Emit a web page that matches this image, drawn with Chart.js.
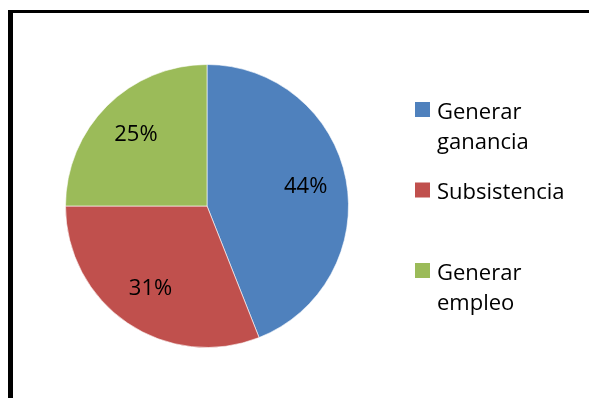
<!DOCTYPE html>
<html>
<head>
<meta charset="utf-8">
<script src="https://cdn.jsdelivr.net/npm/chart.js@4.4.1/dist/chart.umd.min.js"></script>
<style>
  html, body { margin: 0; padding: 0; background: #fff; overflow: hidden; }
  body { width: 589px; height: 398px; position: relative; }
  #frame {
    position: absolute; left: 8px; top: 10px; width: 700px; height: 500px;
    border-left: 5px solid #000; border-top: 3px solid #000;
  }
  #myChart { position: absolute; left: 0; top: 0; }
</style>
</head>
<body>
<div id="frame"></div>
<canvas id="myChart" width="589" height="398"></canvas>
<script>
var labels = [['Generar', 'ganancia'], 'Subsistencia', ['Generar', 'empleo']];
var values = [44, 31, 25];
var colors = ['#4F81BD', '#C0504D', '#9BBB59'];

var fontFamily = '"Open Sans", "Liberation Sans", sans-serif';

// percent text inside each slice
var sliceLabels = {
    id: 'sliceLabels',
    afterDatasetsDraw: function(chart) {
        var ctx = chart.ctx;
        var meta = chart.getDatasetMeta(0);
        ctx.save();
        ctx.font = '22px ' + fontFamily;
        ctx.fillStyle = '#000';
        ctx.textAlign = 'center';
        ctx.textBaseline = 'middle';
        meta.data.forEach(function(arc, i) {
            var p = arc.getProps(['x', 'y', 'startAngle', 'endAngle', 'outerRadius'], true);
            var mid = (p.startAngle + p.endAngle) / 2;
            var r = p.outerRadius * 0.71;
            ctx.fillText(values[i] + '%', p.x + Math.cos(mid) * r, p.y + Math.sin(mid) * r);
        });
        ctx.restore();
    }
};

// legend on the right, entries can span two lines
var sideLegend = {
    id: 'sideLegend',
    afterDraw: function(chart) {
        var ctx = chart.ctx;
        var x = 415, top = 102, step = 80.5, box = 15, lineH = 30;
        ctx.save();
        ctx.font = '22px ' + fontFamily;
        ctx.textBaseline = 'alphabetic';
        ctx.textAlign = 'left';
        labels.forEach(function(lab, i) {
            var y = top + i * step;
            ctx.fillStyle = colors[i];
            ctx.fillRect(x, y, box, box);
            ctx.fillStyle = '#000';
            var lines = Array.isArray(lab) ? lab : [lab];
            lines.forEach(function(t, j) {
                ctx.fillText(t, x + 22, y + box + 1.5 + j * lineH);
            });
        });
        ctx.restore();
    }
};

const ctx = document.getElementById('myChart').getContext('2d');
const myChart = new Chart(ctx, {
    type: 'pie',
    data: {
        labels: labels,
        datasets: [{
            data: values,
            backgroundColor: colors,
            borderColor: 'rgba(255, 255, 255, 0.6)',
            borderWidth: 1
        }]
    },
    options: {
        responsive: false,
        animation: false,
        layout: {
            padding: { left: 65, top: 64, right: 240, bottom: 50 }
        },
        plugins: {
            legend: { display: false },
            tooltip: { enabled: false }
        }
    },
    plugins: [sliceLabels, sideLegend]
});
</script>
</body>
</html>
